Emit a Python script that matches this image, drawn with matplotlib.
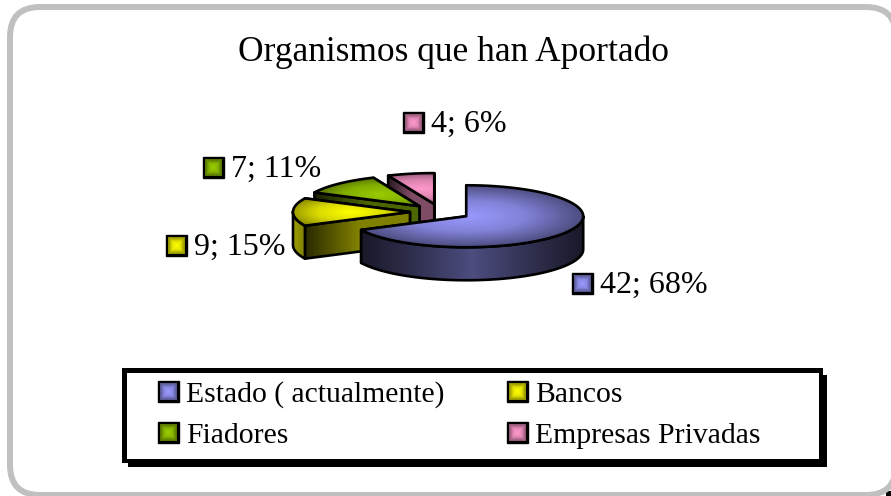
#!/usr/bin/env python
# -*- coding: utf-8 -*-

import numpy as np
import matplotlib
matplotlib.use('Agg')
import matplotlib.pyplot as plt
from matplotlib.colors import LinearSegmentedColormap, to_rgb
from matplotlib.patches import FancyBboxPatch, Polygon, Rectangle

plt.rcParams['font.family'] = ['Liberation Serif', 'DejaVu Serif']

title = 'Organismos que han Aportado'
categories = ['Estado ( actualmente)', 'Bancos', 'Fiadores', 'Empresas Privadas']
values = [42, 9, 7, 4]
percents = [68, 15, 11, 6]
colors = ['#9999FF', '#FFFF00', '#99CC00', '#FF99CC']

# pie geometry, in pixels
cx, cy = 440.4, 212
rx, ry = 117, 31
depth = 33
explode = 0.26

# where the labels and the legend entries sit
label_pos = [(572, 273), (166, 235), (203, 157), (403, 112)]
legend_pos = [(158, 381), (507, 381), (158, 422), (507, 422)]
swatch = 21


def shade(color, f):
    return tuple(min(1, c * f) for c in to_rgb(color))


def gradient_fill(ax, verts, color, stops, zorder):
    # horizontal gradient clipped to a polygon
    verts = np.array(verts)
    x0, x1 = verts[:, 0].min(), verts[:, 0].max()
    y0, y1 = verts[:, 1].min(), verts[:, 1].max()
    cmap = LinearSegmentedColormap.from_list('g', [shade(color, s) for s in stops])
    im = ax.imshow(np.linspace(0, 1, 256)[None, :], cmap=cmap, extent=(x0, x1, y1, y0),
                   aspect='auto', zorder=zorder, interpolation='bilinear')
    poly = Polygon(verts, closed=True, fc='none', ec='black', lw=1.9, zorder=zorder, joinstyle='round')
    ax.add_patch(poly)
    im.set_clip_path(poly)


def radial_fill(ax, verts, center, spread, color, zorder):
    # bright around center, darker towards the rim
    verts = np.array(verts)
    x0, x1 = verts[:, 0].min(), verts[:, 0].max()
    y0, y1 = verts[:, 1].min(), verts[:, 1].max()
    xx, yy = np.meshgrid(np.linspace(x0, x1, 300), np.linspace(y0, y1, 120))
    d = np.sqrt(((xx - center[0]) / (rx * spread)) ** 2 + ((yy - center[1]) / (ry * spread)) ** 2)
    cmap = LinearSegmentedColormap.from_list('r', [shade(color, 1), shade(color, 0.85), shade(color, 0.5)])
    im = ax.imshow(np.clip(d, 0, 1), cmap=cmap, extent=(x0, x1, y1, y0), aspect='auto',
                   zorder=zorder, vmin=0, vmax=1, interpolation='bilinear')
    poly = Polygon(verts, closed=True, fc='none', ec='black', lw=1.9, zorder=zorder, joinstyle='round')
    ax.add_patch(poly)
    im.set_clip_path(poly)


def rim(center, a):
    # angle measured clockwise from 12 o'clock
    return np.column_stack([center[0] + rx * np.sin(a), center[1] - ry * np.cos(a)])


def draw_slice(ax, start, end, color, zorder):
    mid = (start + end) / 2
    center = (cx + explode * rx * np.sin(mid), cy - explode * ry * np.cos(mid))
    arc = rim(center, np.linspace(start, end, 120))
    down = np.array([0, depth])

    # the two cut faces
    for edge in (arc[-1], arc[0]):
        face = [center, edge, edge + down, np.array(center) + down]
        gradient_fill(ax, face, color, [0.16, 0.5, 0.5], zorder)

    # the outer wall, only the part that looks towards the viewer
    a = np.linspace(start, end, 240)
    a = a[np.cos(a) < 0.02]
    if len(a) > 1:
        top = rim(center, a)
        wall = np.vstack([top, (top + down)[::-1]])
        if color == colors[0]:
            gradient_fill(ax, wall, color, [0.16, 0.32, 0.5, 0.32, 0.16], zorder + 0.1)
        else:
            gradient_fill(ax, wall, color, [0.62, 0.5], zorder + 0.1)

    # big slice is brightest at its tip, the small ones in their middle
    if color == colors[0]:
        glow, spread = center, 1.0
    else:
        glow = rim(center, np.array([mid]))[0] * 0.5 + np.array(center) * 0.5
        spread = 0.6
    radial_fill(ax, np.vstack([center, arc]), glow, spread, color, zorder + 0.2)


def draw_swatch(ax, x, y, color):
    ax.add_patch(Rectangle((x, y), swatch, swatch, fc='black', ec='black', lw=1, zorder=8))
    xx, yy = np.meshgrid(np.linspace(-1, 1, 32), np.linspace(-1, 1, 32))
    d = np.maximum(np.abs(xx), np.abs(yy))
    cmap = LinearSegmentedColormap.from_list('s', [shade(color, 1), shade(color, 0.9), shade(color, 0.55)])
    ax.imshow(d, cmap=cmap, vmin=0, vmax=1, extent=(x + 2, x + swatch - 2, y + swatch - 2, y + 2),
              aspect='auto', zorder=9, interpolation='bilinear')


fig = plt.figure(figsize=(8.91, 4.96), dpi=100)
ax = fig.add_axes([0, 0, 1, 1])

# outer frame
ax.add_patch(Rectangle((886, 491), 5, 5, fc='black', ec='none', zorder=0))
ax.add_patch(FancyBboxPatch((40, 37), 826, 428, boxstyle='round,pad=30,rounding_size=30',
                            fc='white', ec='#C0C0C0', lw=4.3, zorder=1))

ax.text(454, 61, title, fontsize=25.5, ha='center', va='baseline', color='black', zorder=10)

# slices, back to front
fractions = np.array(values) / sum(values)
edges = np.concatenate([[0], np.cumsum(fractions)]) * 2 * np.pi
draw_order = [3, 2, 1, 0]
for n, i in enumerate(draw_order):
    draw_slice(ax, edges[i], edges[i + 1], colors[i], 2 + n)

# data labels
for i, (x, y) in enumerate(label_pos):
    draw_swatch(ax, x, y, colors[i])
    ax.text(x + swatch + 7, y + swatch - 1, '%d; %d%%' % (values[i], percents[i]), fontsize=23,
            ha='left', va='baseline', zorder=10, color='black')

# legend box with its shadow
ax.add_patch(Rectangle((128, 375), 699, 92, fc='black', ec='none', zorder=6))
ax.add_patch(Rectangle((122, 368), 701, 95, fc='black', ec='none', zorder=6))
ax.add_patch(Rectangle((127, 373), 692, 86, fc='white', ec='none', zorder=7))

for i, (x, y) in enumerate(legend_pos):
    draw_swatch(ax, x, y, colors[i])
    ax.text(x + swatch + 7, y + swatch, categories[i], fontsize=21.3,
            ha='left', va='baseline', zorder=10, color='black')

ax.set_xlim(0, 891)
ax.set_ylim(496, 0)
ax.axis('off')

fig.savefig('out.png', dpi=100, facecolor='white')
